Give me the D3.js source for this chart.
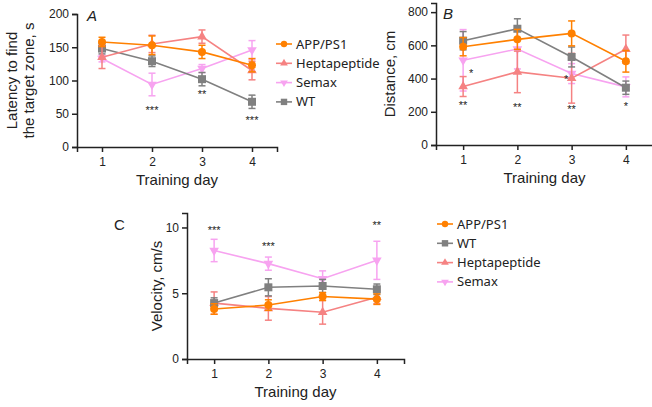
<!DOCTYPE html>
<html>
<head>
<meta charset="utf-8">
<script src="https://cdn.jsdelivr.net/npm/d3@7"></script>
<style>
  body { margin: 0; background: #fff; }
  svg text { font-family: "Liberation Sans", Arial, sans-serif; fill: #222; }
  .leg text { font-family: "Noto Sans", "Lato", sans-serif; }
</style>
</head>
<body>
<div id="chart"></div>
<script>
// training days
const days = [1, 2, 3, 4];

// panel A - latency (s)
const latAPP = [158, 153, 143, 123];
const latAPPErr = [7, 14, 10, 10];
const latHepta = [135, 155, 166, 115];
const latHeptaErr = [17, 13, 10, 14];
const latSemax = [133, 94, 118, 146];
const latSemaxErr = [5, 17, 6, 14];
const latWT = [148, 129, 102, 68];
const latWTErr = [8, 8, 10, 10];

// panel B - distance (cm)
const distAPP = [592, 636, 672, 504];
const distAPPErr = [55, 60, 75, 65];
const distHepta = [352, 440, 402, 577];
const distHeptaErr = [60, 125, 150, 85];
const distSemax = [510, 578, 430, 350];
const distSemaxErr = [185, 120, 60, 60];
const distWT = [628, 700, 530, 345];
const distWTErr = [55, 60, 60, 40];

// panel C - velocity (cm/s)
const velAPP = [3.8, 4.1, 4.75, 4.55];
const velAPPErr = [0.4, 0.4, 0.3, 0.4];
const velHepta = [4.25, 3.85, 3.55, 4.7];
const velHeptaErr = [0.85, 0.9, 0.9, 0.5];
const velSemax = [8.25, 7.25, 6.1, 7.5];
const velSemaxErr = [0.85, 0.5, 0.6, 1.45];
const velWT = [4.25, 5.45, 5.55, 5.3];
const velWTErr = [0.4, 0.65, 0.5, 0.4];

// significance marks (y = value of text baseline)
const starsA = [{day: 2, y: 50, t: '***'}, {day: 3, y: 73, t: '**'}, {day: 4, y: 35, t: '***'}];
const starsB = [{day: 1, y: 214, t: '**'}, {day: 1.15, y: 407, t: '*'}, {day: 2, y: 202, t: '**'},
                {day: 2.9, y: 376, t: '*'}, {day: 3, y: 190, t: '**'}, {day: 4, y: 208, t: '*'}];
const starsC = [{day: 1, y: 9.54, t: '***'}, {day: 2, y: 8.25, t: '***'}, {day: 4, y: 9.92, t: '**'}];

const colors = {APP: '#ff8000', Hepta: '#f58282', Semax: '#f7a3f0', WT: '#808080'};

const svg = d3.select('#chart')
      .append('svg')
      .attr('width', 652)
      .attr('height', 407);

function marker(g, shape, color) {
  if (shape === 'circle') {
    g.append('circle').attr('r', 4).attr('fill', color);
  } else if (shape === 'square') {
    g.append('rect').attr('x', -4).attr('y', -4).attr('width', 8).attr('height', 8).attr('fill', color);
  } else {
    let sym = d3.symbol().type(d3.symbolTriangle).size(40);
    let p = g.append('path').attr('d', sym()).attr('fill', color);
    if (shape === 'down') p.attr('transform', 'rotate(180)');
  }
}

function drawPanel(cfg) {
  const xScale = d3.scaleLinear().domain([0.5, 4.5]).range([cfg.x0, cfg.x1]);
  const yScale = d3.scaleLinear().domain(cfg.ydom).range([cfg.y0, cfg.y1]);
  const g = svg.append('g');

  const xAxis = d3.axisBottom(xScale).tickValues(days).tickSize(5).tickFormat(d3.format('d'));
  const yAxis = d3.axisLeft(yScale).tickValues(cfg.yticks).tickSize(5);

  const xg = g.append('g').attr('transform', 'translate(0,' + cfg.y0 + ')').call(xAxis);
  const yg = g.append('g').attr('transform', 'translate(' + cfg.x0 + ',0)').call(yAxis);
  [xg, yg].forEach(a => {
    a.select('.domain').attr('stroke', '#222').attr('stroke-width', 1.5);
    a.selectAll('.tick line').attr('stroke', '#222').attr('stroke-width', 1.5);
    a.selectAll('.tick text').attr('font-size', 12).attr('fill', '#222');
  });
  xg.selectAll('.tick text').attr('dy', '0.9em');

  cfg.series.forEach(s => {
    const line = d3.line().x((d, i) => xScale(days[i])).y(d => yScale(d));
    g.append('path').datum(s.vals).attr('d', line)
      .attr('fill', 'none').attr('stroke', s.color).attr('stroke-width', 1.6);
    s.vals.forEach((v, i) => {
      const x = xScale(days[i]);
      const top = yScale(v + s.err[i]), bot = yScale(v - s.err[i]);
      g.append('line').attr('x1', x).attr('x2', x).attr('y1', top).attr('y2', bot)
        .attr('stroke', s.color).attr('stroke-width', 1.5);
      [top, bot].forEach(yy => g.append('line').attr('x1', x - 3.5).attr('x2', x + 3.5)
        .attr('y1', yy).attr('y2', yy).attr('stroke', s.color).attr('stroke-width', 1.5));
      marker(g.append('g').attr('transform', 'translate(' + x + ',' + yScale(v) + ')'), s.shape, s.color);
    });
  });

  cfg.stars.forEach(st => {
    g.append('text').attr('x', xScale(st.day)).attr('y', yScale(st.y))
      .attr('text-anchor', 'middle').attr('font-size', 11).text(st.t);
  });

  g.append('text').attr('x', cfg.letterX).attr('y', cfg.letterY)
    .attr('font-size', 15).attr('font-style', cfg.letterStyle).text(cfg.letter);

  g.append('text').attr('x', (cfg.x0 + cfg.x1) / 2).attr('y', cfg.y0 + 38)
    .attr('text-anchor', 'middle').attr('font-size', 15).text('Training day');

  const ylab = g.append('text').attr('text-anchor', 'middle').attr('font-size', 15)
    .attr('transform', 'translate(' + cfg.ylabX + ',' + (cfg.y0 + cfg.y1) / 2 + ') rotate(-90)');
  cfg.ylab.forEach((t, i) => ylab.append('tspan').attr('x', 0).attr('dy', i === 0 ? 0 : 17).text(t));

  const leg = svg.append('g').attr('class', 'leg');
  cfg.legend.forEach((s, i) => {
    const ly = cfg.legY + i * 19.3;
    leg.append('line').attr('x1', cfg.legX).attr('x2', cfg.legX + 16).attr('y1', ly).attr('y2', ly)
      .attr('stroke', s.color).attr('stroke-width', 1.6);
    marker(leg.append('g').attr('transform', 'translate(' + (cfg.legX + 8) + ',' + ly + ') scale(0.8)'), s.shape, s.color);
    leg.append('text').attr('x', cfg.legX + 20).attr('y', ly + 4.5).attr('font-size', 13).text(s.name);
  });
}

const sAPP = {name: 'APP/PS1', color: colors.APP, shape: 'circle'};
const sHepta = {name: 'Heptapeptide', color: colors.Hepta, shape: 'up'};
const sSemax = {name: 'Semax', color: colors.Semax, shape: 'down'};
const sWT = {name: 'WT', color: colors.WT, shape: 'square'};

drawPanel({
  x0: 77, x1: 277, y0: 147, y1: 14, ydom: [0, 200], yticks: [0, 50, 100, 150, 200],
  series: [
    Object.assign({vals: latSemax, err: latSemaxErr}, sSemax),
    Object.assign({vals: latWT, err: latWTErr}, sWT),
    Object.assign({vals: latHepta, err: latHeptaErr}, sHepta),
    Object.assign({vals: latAPP, err: latAPPErr}, sAPP)
  ],
  stars: starsA, letter: 'A', letterX: 87, letterY: 21, letterStyle: 'italic',
  ylab: ['Latency to find', 'the target zone, s'], ylabX: 17,
  legend: [sAPP, sHepta, sSemax, sWT], legX: 276, legY: 44
});

drawPanel({
  x0: 436, x1: 653, y0: 145, y1: 3, ydom: [0, 855], yticks: [0, 200, 400, 600, 800],
  series: [
    Object.assign({vals: distSemax, err: distSemaxErr}, sSemax),
    Object.assign({vals: distHepta, err: distHeptaErr}, sHepta),
    Object.assign({vals: distWT, err: distWTErr}, sWT),
    Object.assign({vals: distAPP, err: distAPPErr}, sAPP)
  ],
  stars: starsB, letter: 'B', letterX: 443, letterY: 19, letterStyle: 'italic',
  ylab: ['Distance, cm'], ylabX: 395,
  legend: [], legX: 0, legY: 0
});

drawPanel({
  x0: 187, x1: 404, y0: 359, y1: 213, ydom: [0, 11.1], yticks: [0, 5, 10],
  series: [
    Object.assign({vals: velHepta, err: velHeptaErr}, sHepta),
    Object.assign({vals: velSemax, err: velSemaxErr}, sSemax),
    Object.assign({vals: velWT, err: velWTErr}, sWT),
    Object.assign({vals: velAPP, err: velAPPErr}, sAPP)
  ],
  stars: starsC, letter: 'C', letterX: 114, letterY: 230, letterStyle: 'normal',
  ylab: ['Velocity, cm/s'], ylabX: 162,
  legend: [sAPP, sWT, sHepta, sSemax], legX: 437, legY: 224
});
</script>
</body>
</html>
